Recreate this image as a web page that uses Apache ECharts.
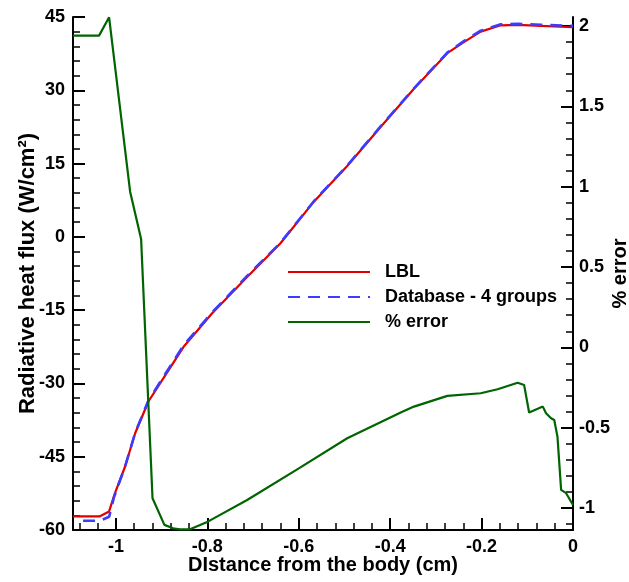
<!DOCTYPE html>
<html><head><meta charset="utf-8">
<script src="https://cdn.jsdelivr.net/npm/echarts@6/dist/echarts.min.js"></script>
<style>html,body{margin:0;padding:0;background:#fff}#c{width:629px;height:582px}</style>
</head><body><div id="c"></div>
<script>
// LBL radiative heat flux (left axis)
const xLBL = [-1.094, -1.035, -1.015, -1.002, -0.980, -0.958, -0.929, -0.889, -0.852, -0.790, -0.713, -0.640, -0.567, -0.494, -0.421, -0.348, -0.275, -0.238, -0.202, -0.158, -0.121, -0.070, 0];
const yLBL = [-57.2, -57.2, -56.2, -52.4, -47.0, -40.2, -33.7, -27.9, -22.5, -15.7, -8.2, -1.3, 7.2, 14.5, 22.5, 30.3, 37.6, 39.9, 42.0, 43.3, 43.4, 43.2, 42.9];
// Database - 4 groups (left axis)
const xDB = [-1.072, -1.035, -1.015, -1.004, -0.980, -0.958, -0.929, -0.889, -0.852, -0.790, -0.713, -0.640, -0.567, -0.494, -0.421, -0.348, -0.275, -0.238, -0.202, -0.158, -0.121, -0.070, 0];
const yDB = [-58.1, -58.1, -57.3, -53.2, -47.0, -40.1, -33.5, -27.6, -22.2, -15.5, -8.0, -1.2, 7.3, 14.6, 22.6, 30.4, 37.7, 40.1, 42.2, 43.5, 43.6, 43.4, 43.2];
// % error (right axis)
const xErr = [-1.094, -1.037, -1.015, -0.969, -0.945, -0.920, -0.894, -0.875, -0.860, -0.838, -0.799, -0.713, -0.599, -0.494, -0.377, -0.348, -0.275, -0.202, -0.165, -0.121, -0.107, -0.096, -0.066, -0.059, -0.048, -0.041, -0.034, -0.026, -0.015, 0];
const yErr = [1.94, 1.94, 2.054, 0.969, 0.675, -0.939, -1.105, -1.126, -1.133, -1.133, -1.085, -0.950, -0.752, -0.566, -0.406, -0.369, -0.302, -0.286, -0.261, -0.220, -0.234, -0.406, -0.369, -0.410, -0.441, -0.452, -0.556, -0.887, -0.908, -0.981];
// ticks
const xMajor = [-1, -0.8, -0.6, -0.4, -0.2, 0];
const xMinor = [-1.08, -1.04, -0.96, -0.92, -0.88, -0.84, -0.76, -0.72, -0.68, -0.64, -0.56, -0.52, -0.48, -0.44, -0.36, -0.32, -0.28, -0.24, -0.16, -0.12, -0.08, -0.04];
const rMajor = [-1, -0.5, 0, 0.5, 1, 1.5, 2];
const rMinor = [-1.1, -0.9, -0.8, -0.7, -0.6, -0.4, -0.3, -0.2, -0.1, 0.1, 0.2, 0.3, 0.4, 0.6, 0.7, 0.8, 0.9, 1.1, 1.2, 1.3, 1.4, 1.6, 1.7, 1.8, 1.9];

const zip = (a, b) => a.map((v, i) => [v, b[i]]);
const font = 'Liberation Sans, Arial, sans-serif';
const lab = {fontSize: 18, fontWeight: 'bold', color: '#000', fontFamily: font};
const axLine = {show: true, onZero: false, lineStyle: {color: '#000', width: 2}};
const nameStyle = {fontSize: 20, fontWeight: 'bold', color: '#000', fontFamily: font};

const chart = echarts.init(document.getElementById('c'));
chart.setOption({
  animation: false,
  backgroundColor: '#fff',
  textStyle: {fontFamily: font},
  grid: {left: 73, right: 56, top: 17, bottom: 52, containLabel: false, outerBoundsMode: 'none'},
  legend: {
    orient: 'vertical', left: 282, top: 257, itemWidth: 82, itemHeight: 14, itemGap: 5,
    itemStyle: {opacity: 0},
    textStyle: {fontSize: 18, fontWeight: 'bold', color: '#000', fontFamily: font, lineHeight: 20, padding: [0, 0, 0, 10]},
    data: ['LBL', 'Database - 4 groups', '% error']
  },
  xAxis: [{
    type: 'value', min: -1.094, max: 0, position: 'bottom',
    axisLine: axLine,
    axisTick: {show: true, inside: true, length: 12, lineStyle: {color: '#000', width: 2}, customValues: xMajor},
    axisLabel: Object.assign({customValues: xMajor, margin: 8, formatter: v => String(v)}, lab),
    splitLine: {show: false},
    name: 'DIstance from the body (cm)', nameLocation: 'middle', nameGap: 25, nameMoveOverlap: false,
    nameTextStyle: nameStyle
  }, {
    type: 'value', min: -1.094, max: 0, position: 'bottom',
    axisLine: {show: false, onZero: false},
    axisTick: {show: true, inside: true, length: 7, lineStyle: {color: '#000', width: 1.5}, customValues: xMinor},
    axisLabel: {show: false}, splitLine: {show: false}
  }],
  yAxis: [{
    type: 'value', min: -60, max: 45, interval: 15, position: 'left',
    axisLine: axLine,
    axisTick: {show: true, inside: true, length: 12, lineStyle: {color: '#000', width: 2}},
    minorTick: {show: true, splitNumber: 5, length: 7, lineStyle: {color: '#000', width: 1.5}},
    axisLabel: Object.assign({margin: 8}, lab),
    splitLine: {show: false}, minorSplitLine: {show: false},
    name: 'Radiative heat flux (W/cm²)', nameLocation: 'middle', nameGap: 34, nameRotate: 90, nameMoveOverlap: false,
    nameTextStyle: Object.assign({}, nameStyle, {fontSize: 22})
  }, {
    type: 'value', min: -1.137, max: 2.056, position: 'right',
    axisLine: axLine,
    axisTick: {show: true, inside: true, length: 12, lineStyle: {color: '#000', width: 2}, customValues: rMajor},
    axisLabel: Object.assign({customValues: rMajor, margin: 6, formatter: v => String(v)}, lab),
    splitLine: {show: false},
    name: '% error', nameLocation: 'middle', nameGap: 37, nameRotate: 90, nameMoveOverlap: false,
    nameTextStyle: nameStyle
  }, {
    type: 'value', min: -1.137, max: 2.056, position: 'right',
    axisLine: {show: false, onZero: false},
    axisTick: {show: true, inside: true, length: 7, lineStyle: {color: '#000', width: 1.5}, customValues: rMinor},
    axisLabel: {show: false}, splitLine: {show: false}
  }],
  series: [{
    name: 'LBL', type: 'line', xAxisIndex: 0, yAxisIndex: 0, data: zip(xLBL, yLBL),
    showSymbol: false, symbol: 'none', color: '#e00000',
    lineStyle: {color: '#e00000', width: 2.2}
  }, {
    name: 'Database - 4 groups', type: 'line', xAxisIndex: 0, yAxisIndex: 0, data: zip(xDB, yDB),
    showSymbol: false, symbol: 'none', color: '#3c3cff',
    lineStyle: {color: '#3c3cff', width: 2.6, type: [12, 8]}
  }, {
    name: '% error', type: 'line', xAxisIndex: 0, yAxisIndex: 1, data: zip(xErr, yErr),
    showSymbol: false, symbol: 'none', color: '#006400',
    lineStyle: {color: '#006400', width: 2.2}
  }]
});
</script></body></html>
